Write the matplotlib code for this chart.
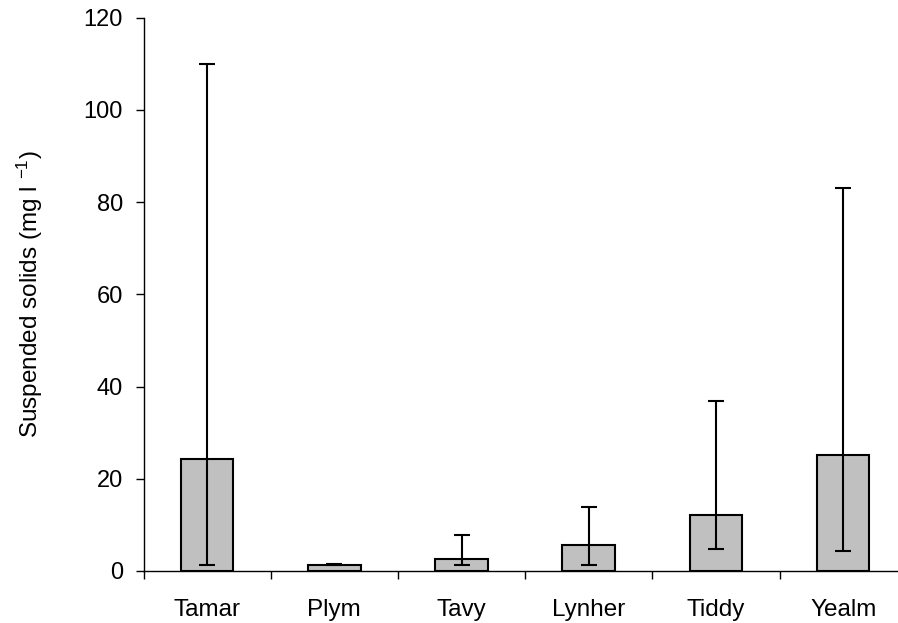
import matplotlib
matplotlib.use("Agg")
import matplotlib.pyplot as plt
import numpy as np

# Suspended solids per river: mean with min/max range
rivers = ["Tamar", "Plym", "Tavy", "Lynher", "Tiddy", "Yealm"]
mean_ss = [24.3, 1.3, 2.6, 5.7, 12.1, 25.2]
min_ss = [1.3, 1.2, 1.3, 1.3, 4.7, 4.3]
max_ss = [110.0, 1.5, 7.8, 13.9, 36.9, 83.0]
y_ticks = [0, 20, 40, 60, 80, 100, 120]

plt.rcParams["font.family"] = ["Liberation Sans", "DejaVu Sans"]
plt.rcParams["mathtext.fontset"] = "custom"
plt.rcParams["mathtext.rm"] = "Liberation Sans"
plt.rcParams["mathtext.it"] = "Liberation Sans"

fig = plt.figure(figsize=(8.98, 6.23), dpi=100)
ax = fig.add_axes([0.1598, 0.0835, 1.0097 - 0.1598, 0.9716 - 0.0835])

x = np.arange(len(rivers))
mean_arr = np.array(mean_ss)
yerr = np.vstack([mean_arr - np.array(min_ss), np.array(max_ss) - mean_arr])

ax.bar(x, mean_ss, width=0.414, color="#c0c0c0", edgecolor="black",
       linewidth=1.5, zorder=2)
ax.errorbar(x, mean_ss, yerr=yerr, fmt="none", ecolor="black",
            elinewidth=1.5, capsize=5.8, capthick=1.5, zorder=3)

ax.set_xlim(-0.5, len(rivers) - 0.5)
ax.set_ylim(0, 120)

for side in ("top", "right"):
    ax.spines[side].set_visible(False)
for side in ("left", "bottom"):
    ax.spines[side].set_linewidth(1.0)

ax.set_yticks(y_ticks)
ax.set_yticklabels([str(v) for v in y_ticks])
ax.set_xticks(x)
ax.set_xticklabels(rivers)
ax.set_xticks(np.arange(len(rivers) + 1) - 0.5, minor=True)

ax.tick_params(axis="y", which="major", direction="out", length=5.8,
               width=1.0, labelsize=17, pad=9)
ax.tick_params(axis="x", which="major", length=0, labelsize=17.5, pad=20)
ax.tick_params(axis="x", which="minor", direction="out", length=5.8,
               width=1.0)

ax.set_ylabel(r"Suspended solids (mg l $^{-1}$)", fontsize=17.5, labelpad=28)

fig.savefig("out.png", dpi=100)
